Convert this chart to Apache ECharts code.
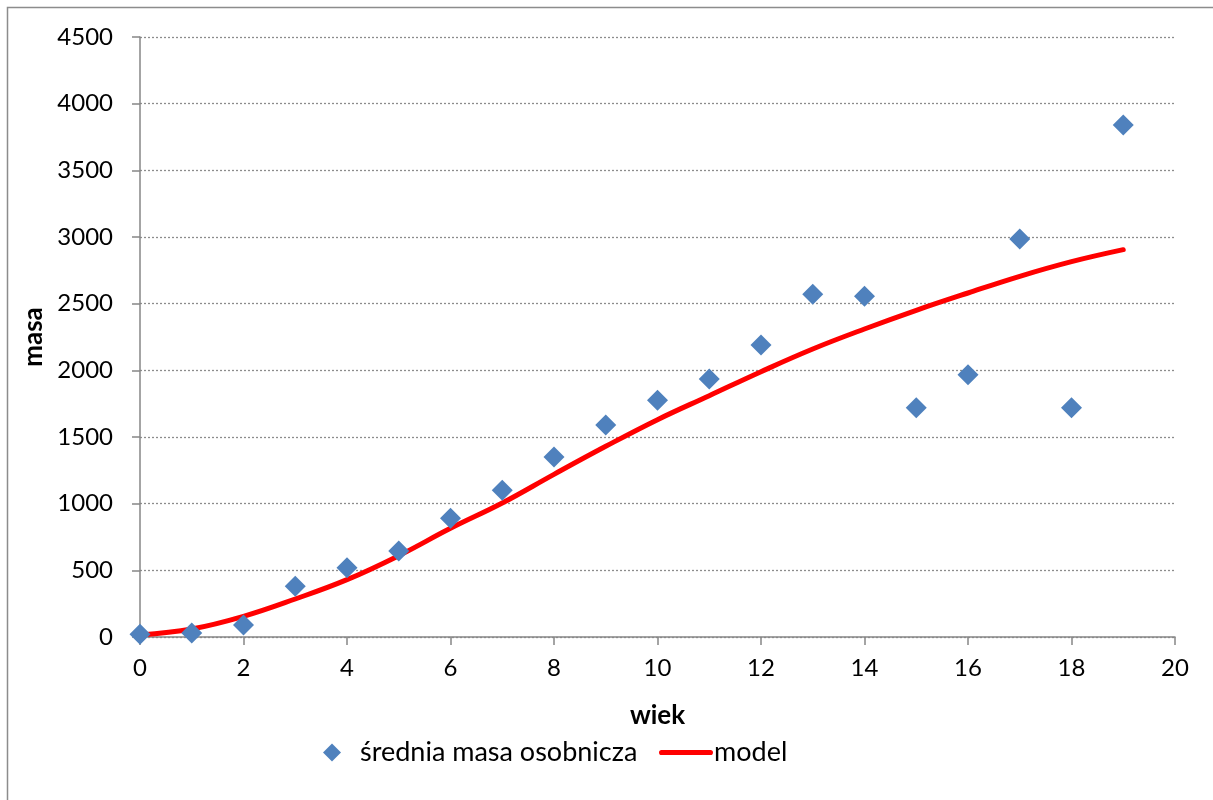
<!DOCTYPE html>
<html><head><meta charset="utf-8">
<script src="https://cdn.jsdelivr.net/npm/echarts@6/dist/echarts.min.js"></script>
<style>html,body{margin:0;padding:0;background:#fff}#c{width:1213px;height:800px}</style>
</head><body><div id="c"></div>
<script>
var ages = [0,1,2,3,4,5,6,7,8,9,10,11,12,13,14,15,16,17,18,19];
var meanMass = [20,30,90,380,520,645,890,1100,1350,1590,1775,1935,2190,2570,2555,1720,1967,2985,1720,3840];
var modelMass = [15,60,155,285,430,610,815,1005,1220,1430,1630,1810,1990,2160,2310,2450,2580,2705,2815,2905];
var xTicks = [0,2,4,6,8,10,12,14,16,18,20];
var yTicks = [0,500,1000,1500,2000,2500,3000,3500,4000,4500];

var FONT = "Lato";
var chart = echarts.init(document.getElementById('c'), null, {renderer:'canvas'});
chart.setOption({
  animation:false,
  backgroundColor:'#fff',
  textStyle:{fontFamily:FONT},
  graphic:[{type:'rect',shape:{x:7.5,y:7.5,width:1230,height:820},style:{fill:'none',stroke:'#8c8c8c',lineWidth:1.5},silent:true}],
  grid:{left:140,right:38,top:37,bottom:163,containLabel:false},
  xAxis:{type:'value',min:xTicks[0],max:xTicks[xTicks.length-1],interval:2,
    name:'wiek',nameLocation:'middle',nameGap:66,
    nameTextStyle:{fontFamily:FONT,fontSize:26,fontWeight:'bold',color:'#000'},
    axisLine:{show:true,lineStyle:{color:'#868686',width:1.5}},
    axisTick:{show:true,length:8,lineStyle:{color:'#868686',width:1.5}},
    axisLabel:{fontFamily:FONT,fontSize:24,color:'#000',margin:19,formatter:function(v){return String(v);}},
    splitLine:{show:false}},
  yAxis:{type:'value',min:yTicks[0],max:yTicks[yTicks.length-1],interval:500,
    name:'masa',nameLocation:'middle',nameGap:91,nameRotate:90,
    nameTextStyle:{fontFamily:FONT,fontSize:26,fontWeight:'bold',color:'#000'},
    axisLine:{show:true,lineStyle:{color:'#868686',width:1.5}},
    axisTick:{show:true,inside:false,length:8,lineStyle:{color:'#868686',width:1.5}},
    axisLabel:{fontFamily:FONT,fontSize:24,color:'#000',margin:27,formatter:function(v){return String(v);}},
    splitLine:{show:true,lineStyle:{color:'#8c8c8c',type:[2,2],width:1.3}}},
  legend:[
    {data:[{name:'średnia masa osobnicza',icon:'diamond'}],left:318,top:734,itemWidth:18,itemHeight:18,
     textStyle:{fontFamily:FONT,fontSize:27,color:'#000',padding:[0,0,0,14]}},
    {data:[{name:'model',icon:'path://M2,0 L50,0 A2.5,2.5 0 0 1 50,5 L2,5 A2.5,2.5 0 0 1 2,0 Z'}],left:654,top:734,itemWidth:54,itemHeight:27,itemGap:0,
     itemStyle:{color:'#ff0000'},
     textStyle:{fontFamily:FONT,fontSize:27,color:'#000',padding:[0,0,0,-4]}}
  ],
  series:[
    {name:'model',type:'line',data:ages.map(function(a,i){return [a,modelMass[i]];}),
     smooth:0.4,showSymbol:false,symbol:'none',lineStyle:{color:'#ff0000',width:5,cap:'round'},itemStyle:{color:'#ff0000'},z:2},
    {name:'średnia masa osobnicza',type:'scatter',data:ages.map(function(a,i){return [a,meanMass[i]];}),
     symbol:'diamond',symbolSize:21,itemStyle:{color:'#4f81bd',opacity:1},z:3}
  ]
});
</script></body></html>
